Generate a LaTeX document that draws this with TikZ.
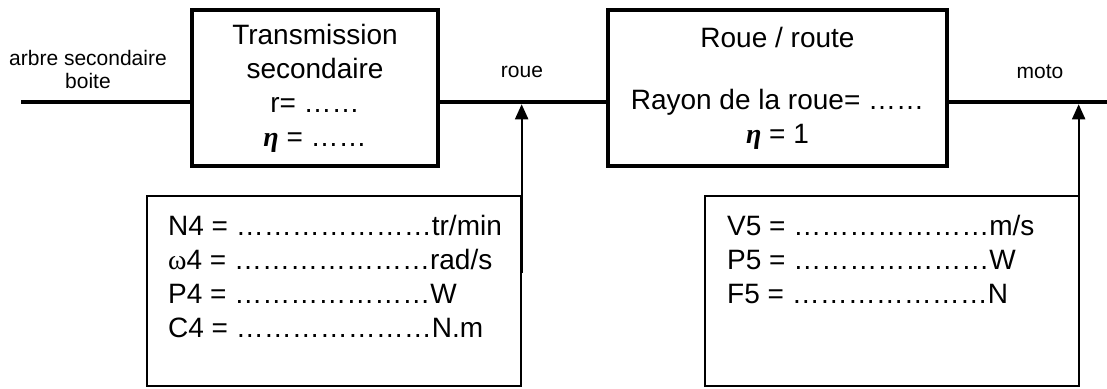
\documentclass[tikz,border=0pt]{standalone}
\usepackage{fontspec}
\setmainfont{Liberation Sans}
\newfontfamily\grfont{Liberation Serif}
\usetikzlibrary{arrows.meta}
\newcommand{\bigf}{\fontsize{28}{34}\selectfont}
\newcommand{\smallf}{\fontsize{21}{23}\selectfont}
\newcommand{\etab}{{\grfont\bfseries\itshape η}}
\newcommand{\omg}{{\grfont ω}}
\begin{document}
\begin{tikzpicture}[x=1pt,y=-1pt,
  blk/.style={draw, line width=4.5pt, inner sep=0pt, align=center, font=\bigf},
  info/.style={draw, line width=1.3pt, inner sep=0pt},
  row/.style={anchor=base west, inner sep=0pt, font=\bigf},
  lab/.style={inner sep=0pt, align=center, font=\smallf},
  shaft/.style={line width=4.5pt},
  arr/.style={line width=2pt, -{Triangle[length=15pt,width=13pt]}}]
\useasboundingbox (0,0) rectangle (1107,388);
% main blocks
\node[blk, minimum width=246pt, minimum height=156pt] (b1) at (315,88)
  {Transmission\\secondaire\\r= ……\\\etab{} = ……};
\node[blk, minimum width=339pt, minimum height=156pt] (b2) at (777.5,88)
  {Roue / route\\[28pt]Rayon de la roue= ……\\\etab{} = 1};
% info boxes
\node[info, minimum width=374pt, minimum height=190pt] (i1) at (334,291) {};
\node[info, minimum width=374pt, minimum height=190pt] (i2) at (892,291) {};
% rows
\node[row] (n4) at (168,235) {N4 = …………………tr/min};
\node[row] (w4) at (168,269) {\omg4 = …………………rad/s};
\node[row] (p4) at (168,303) {P4 = …………………W};
\node[row] (c4) at (168,337) {C4 = …………………N.m};
\node[row] (v5) at (727,235) {V5 = …………………m/s};
\node[row] (p5) at (727,269) {P5 = …………………W};
\node[row] (f5) at (727,303) {F5 = …………………N};
% labels
\node[lab] (src) at (88,69) {arbre secondaire\\boite};
\node[lab] (lroue) at (522,72) {roue};
\node[lab] (lmoto) at (1040,72) {moto};
% shaft
\coordinate (in) at (21,102);
\coordinate (out) at (1107,102);
\draw[shaft] (in) -- (b1.west |- in);
\draw[shaft] (b1.east |- in) -- (b2.west |- in);
\draw[shaft] (b2.east |- in) -- (out);
% arrows
\coordinate (a1) at ([yshift=18pt]i1.east);
\coordinate (a2) at ([yshift=18pt,xshift=-1pt]i2.east);
\draw[arr] (a1) -- ([yshift=-2.25pt]a1 |- in);
\draw[arr] (a2) -- ([yshift=-2.25pt]a2 |- in);
\end{tikzpicture}
\end{document}
